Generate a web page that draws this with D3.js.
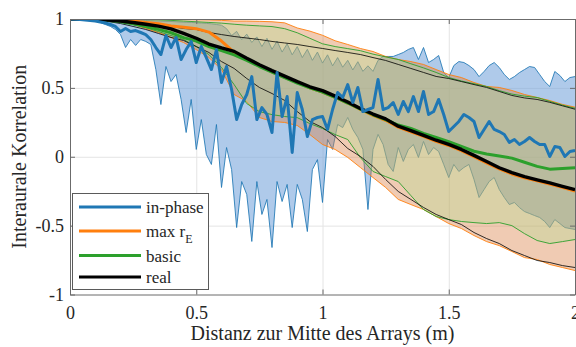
<!DOCTYPE html>
<html>
<head>
<meta charset="utf-8">
<script src="https://cdn.jsdelivr.net/npm/d3@7"></script>
<style>
  body { margin: 0; background: #fff; }
  svg { display: block; }
</style>
</head>
<body>
<div id="chart"></div>
<script>
// sampling positions along the array (m)
const dist = d3.range(101).map(i => i / 50);
const distCoarse = d3.range(41).map(i => i / 20);

// in-phase: mean and min/max band
const inPhaseMean = [
  1.000, 0.998, 0.996, 0.993, 0.989, 0.985, 0.978, 0.971, 0.960, 0.946,
  0.909, 0.931, 0.909, 0.916, 0.902, 0.887, 0.851, 0.793, 0.742, 0.880,
  0.793, 0.866, 0.706, 0.778, 0.837, 0.684, 0.800, 0.720, 0.633, 0.778,
  0.539, 0.655, 0.488, 0.270, 0.379, 0.452, 0.582, 0.270, 0.357, 0.307,
  0.176, 0.612, 0.292, 0.437, 0.031, 0.466, 0.343, 0.147, 0.270, 0.285,
  0.292, 0.198, 0.343, 0.466, 0.430, 0.524, 0.394, 0.503, 0.328, 0.343,
  0.357, 0.561, 0.343, 0.357, 0.394, 0.307, 0.401, 0.328, 0.437, 0.328,
  0.474, 0.307, 0.328, 0.416, 0.307, 0.183, 0.220, 0.256, 0.307, 0.285,
  0.256, 0.140, 0.198, 0.256, 0.198, 0.183, 0.162, 0.104, 0.125, 0.089,
  0.111, 0.140, 0.111, 0.089, 0.089, 0.002, 0.074, 0.067, 0.002, 0.038,
  0.045
];
const inPhaseUpper = [
  1.000, 1.000, 1.000, 1.000, 0.999, 0.999, 0.998, 0.998, 0.997, 0.996,
  0.995, 0.994, 0.993, 0.992, 0.990, 0.989, 0.988, 0.986, 0.985, 0.983,
  0.982, 0.980, 0.978, 0.976, 0.975, 0.973, 0.970, 0.968, 0.965, 0.960,
  0.955, 0.930, 0.880, 0.910, 0.850, 0.890, 0.830, 0.870, 0.800, 0.860,
  0.780, 0.840, 0.760, 0.820, 0.740, 0.800, 0.720, 0.780, 0.700, 0.760,
  0.680, 0.740, 0.660, 0.720, 0.650, 0.700, 0.630, 0.690, 0.620, 0.660,
  0.620, 0.700, 0.728, 0.728, 0.728, 0.742, 0.757, 0.779, 0.793, 0.706,
  0.793, 0.684, 0.706, 0.735, 0.612, 0.575, 0.662, 0.691, 0.684, 0.662,
  0.633, 0.582, 0.619, 0.662, 0.684, 0.648, 0.597, 0.561, 0.582, 0.611,
  0.633, 0.655, 0.648, 0.597, 0.546, 0.510, 0.619, 0.590, 0.546, 0.575,
  0.582
];
const inPhaseLower = [
  1.000, 0.999, 0.998, 0.995, 0.991, 0.985, 0.975, 0.960, 0.946, 0.924,
  0.887, 0.793, 0.851, 0.808, 0.851, 0.837, 0.815, 0.633, 0.379, 0.655,
  0.546, 0.597, 0.416, 0.176, 0.416, 0.053, 0.270, 0.016, -0.056, 0.234,
  -0.223, 0.067, -0.093, -0.514, -0.180, -0.274, -0.615, -0.180, -0.419, -0.310,
  -0.659, -0.180, -0.325, -0.201, -0.514, -0.201, -0.310, -0.543, -0.093, -0.021,
  -0.332, 0.125, 0.053, 0.234, 0.212, 0.285, 0.198, 0.140, 0.053, -0.383,
  0.053, 0.162, 0.089, -0.056, -0.107, 0.067, -0.034, 0.053, 0.089, -0.005,
  0.111, 0.016, 0.067, 0.038, -0.056, -0.151, -0.056, -0.107, -0.078, -0.056,
  -0.165, -0.296, -0.238, -0.180, -0.151, -0.238, -0.296, -0.347, -0.332, -0.369,
  -0.398, -0.412, -0.427, -0.441, -0.470, -0.514, -0.456, -0.485, -0.514, -0.521,
  -0.528
];

// max r_E
const maxReMean = [
  1.000, 1.000, 0.999, 0.996, 0.990, 0.985, 0.975, 0.965, 0.950, 0.940,
  0.930, 0.905, 0.840, 0.758, 0.708, 0.660, 0.617, 0.577, 0.540, 0.500,
  0.470, 0.432, 0.390, 0.343, 0.300, 0.265, 0.215, 0.180, 0.148, 0.112,
  0.082, 0.045, 0.000, -0.045, -0.088, -0.125, -0.152, -0.175, -0.198, -0.222,
  -0.250
];
const maxReUpper = [
  1.000, 1.000, 1.000, 1.000, 1.000, 0.999, 0.999, 0.998, 0.998, 0.997,
  0.996, 0.994, 0.990, 0.985, 0.985, 0.983, 0.980, 0.972, 0.935, 0.912,
  0.882, 0.842, 0.815, 0.786, 0.764, 0.728, 0.706, 0.691, 0.670, 0.633,
  0.597, 0.575, 0.539, 0.510, 0.503, 0.481, 0.452, 0.430, 0.408, 0.380,
  0.360
];
const maxReLower = [
  1.000, 0.999, 0.996, 0.989, 0.978, 0.960, 0.931, 0.902, 0.866, 0.829,
  0.778, 0.720, 0.633, 0.452, 0.401, 0.285, 0.256, 0.249, 0.227, 0.161,
  0.089, 0.053, -0.005, -0.078, -0.151, -0.223, -0.310, -0.347, -0.383, -0.434,
  -0.485, -0.521, -0.572, -0.616, -0.645, -0.688, -0.732, -0.746, -0.782, -0.804,
  -0.826
];

// basic
const basicMean = [
  1.000, 1.000, 0.997, 0.990, 0.980, 0.965, 0.945, 0.925, 0.900, 0.865,
  0.840, 0.800, 0.770, 0.740, 0.700, 0.655, 0.615, 0.575, 0.535, 0.500,
  0.470, 0.432, 0.390, 0.345, 0.305, 0.270, 0.230, 0.205, 0.170, 0.140,
  0.110, 0.075, 0.040, 0.020, 0.005, -0.010, -0.040, -0.070, -0.090, -0.085,
  -0.080
];
const basicUpper = [
  1.000, 1.000, 1.000, 1.000, 0.999, 0.998, 0.996, 0.994, 0.990, 0.985,
  0.980, 0.975, 0.970, 0.962, 0.955, 0.950, 0.945, 0.930, 0.900, 0.860,
  0.820, 0.800, 0.785, 0.770, 0.745, 0.725, 0.706, 0.675, 0.645, 0.612,
  0.575, 0.550, 0.530, 0.510, 0.480, 0.455, 0.440, 0.430, 0.402, 0.375,
  0.352
];
const basicLower = [
  1.000, 0.999, 0.996, 0.989, 0.978, 0.960, 0.938, 0.909, 0.880, 0.851,
  0.800, 0.742, 0.648, 0.524, 0.386, 0.328, 0.306, 0.292, 0.284, 0.241,
  0.205, 0.161, 0.125, -0.006, -0.107, -0.144, -0.180, -0.282, -0.383, -0.434,
  -0.456, -0.470, -0.478, -0.485, -0.478, -0.500, -0.558, -0.608, -0.630, -0.616,
  -0.601
];

// real
const realMean = [
  1.000, 1.000, 0.998, 0.993, 0.985, 0.975, 0.962, 0.948, 0.928, 0.895,
  0.860, 0.818, 0.790, 0.765, 0.715, 0.668, 0.625, 0.585, 0.545, 0.508,
  0.480, 0.440, 0.398, 0.350, 0.310, 0.275, 0.222, 0.190, 0.155, 0.120,
  0.090, 0.053, 0.010, -0.035, -0.080, -0.115, -0.145, -0.168, -0.190, -0.215,
  -0.238
];
const realUpper = [
  1.000, 1.000, 0.999, 0.996, 0.993, 0.985, 0.974, 0.960, 0.946, 0.931,
  0.924, 0.902, 0.887, 0.873, 0.862, 0.851, 0.837, 0.826, 0.815, 0.800,
  0.786, 0.771, 0.757, 0.742, 0.720, 0.699, 0.670, 0.641, 0.612, 0.583,
  0.568, 0.546, 0.524, 0.503, 0.474, 0.445, 0.427, 0.416, 0.395, 0.370,
  0.345
];
const realLower = [
  1.000, 0.999, 0.993, 0.982, 0.967, 0.946, 0.924, 0.895, 0.866, 0.844,
  0.800, 0.757, 0.691, 0.641, 0.568, 0.503, 0.459, 0.409, 0.328, 0.256,
  0.212, 0.147, 0.060, 0.002, -0.070, -0.165, -0.252, -0.310, -0.368, -0.419,
  -0.456, -0.492, -0.550, -0.594, -0.630, -0.681, -0.717, -0.753, -0.768, -0.790,
  -0.804
];

const xTicks = [0, 0.5, 1, 1.5, 2];
const xTickLabels = ["0", "0.5", "1", "1.5", "2"];
const yTicks = [-1, -0.5, 0, 0.5, 1];
const yTickLabels = ["-1", "-0.5", "0", "0.5", "1"];
const legendLabels = ["in-phase", "max r", "basic", "real"];

const FONT = "'Liberation Serif', 'Times New Roman', serif";
const TEXT = "#262626";
const AXIS = "#6b6b6b";
const colors = ["#1f77b4", "#ff7f0e", "#2ca02c", "#000000"];

const W = 576, H = 347;
const x = d3.scaleLinear().domain([0, 2]).range([70, 575]);
const y = d3.scaleLinear().domain([-1, 1]).range([294.5, 19]);

const svg = d3.select("#chart").append("svg")
    .attr("width", W)
    .attr("height", H);

svg.append("defs").append("clipPath").attr("id", "clip")
  .append("rect")
    .attr("x", x(0)).attr("y", y(1))
    .attr("width", x(2) - x(0) + 1).attr("height", y(-1) - y(1));

// grid lines
svg.append("g")
    .attr("transform", `translate(0,${y(-1)})`)
    .call(d3.axisBottom(x).tickValues(xTicks.slice(1, -1)).tickSize(-(y(-1) - y(1))).tickFormat(""))
    .call(g => g.select(".domain").remove())
    .selectAll("line").attr("stroke", "#e4e4e4");
svg.append("g")
    .attr("transform", `translate(${x(0)},0)`)
    .call(d3.axisLeft(y).tickValues(yTicks.slice(1, -1)).tickSize(-(x(2) - x(0))).tickFormat(""))
    .call(g => g.select(".domain").remove())
    .selectAll("line").attr("stroke", "#e4e4e4");

const plot = svg.append("g").attr("clip-path", "url(#clip)");

const line = xs => d3.line().x((d, i) => x(xs[i])).y(d => y(d));

function band(xs, upper, lower, fill, fillOpacity, edge, edgeOpacity) {
    if (fill) {
        const area = d3.area()
            .x((d, i) => x(xs[i]))
            .y0((d, i) => y(lower[i]))
            .y1(d => y(d));
        plot.append("path").datum(upper)
            .attr("d", area)
            .attr("fill", fill)
            .attr("fill-opacity", fillOpacity);
    }
    [upper, lower].forEach(s => {
        plot.append("path").datum(s)
            .attr("d", line(xs))
            .attr("fill", "none")
            .attr("stroke", edge)
            .attr("stroke-opacity", edgeOpacity)
            .attr("stroke-width", 1);
    });
}

// bands
band(dist, inPhaseUpper, inPhaseLower, "#7aa6dc", 0.6, colors[0], 0.85);
band(distCoarse, maxReUpper, maxReLower, "#da7d40", 0.4, colors[1], 0.9);
band(distCoarse, basicUpper, basicLower, "#aae18c", 0.3, colors[2], 0.9);
band(distCoarse, realUpper, realLower, null, 0, "#000", 0.8);

// mean lines
function meanLine(xs, s, color, width) {
    plot.append("path").datum(s)
        .attr("d", line(xs))
        .attr("fill", "none")
        .attr("stroke", color)
        .attr("stroke-width", width)
        .attr("stroke-linejoin", "round");
}
meanLine(distCoarse, maxReMean, colors[1], 3);
meanLine(distCoarse, basicMean, colors[2], 3);
meanLine(distCoarse, realMean, colors[3], 3.4);
meanLine(dist, inPhaseMean, colors[0], 3);

// axes
function styleAxis(g) {
    g.selectAll(".domain").attr("stroke", AXIS);
    g.selectAll(".tick line").attr("stroke", AXIS);
    g.selectAll("text")
        .attr("font-family", FONT)
        .attr("font-size", 18)
        .attr("fill", TEXT);
}
svg.append("g")
    .attr("transform", `translate(0,${y(-1)})`)
    .call(d3.axisBottom(x).tickValues(xTicks).tickFormat((d, i) => xTickLabels[i])
        .tickSizeInner(-5).tickSizeOuter(0).tickPadding(12))
    .call(styleAxis);
svg.append("g")
    .attr("transform", `translate(0,${y(1)})`)
    .call(d3.axisTop(x).tickValues(xTicks).tickFormat("").tickSizeInner(-5).tickSizeOuter(0))
    .call(styleAxis);
svg.append("g")
    .attr("transform", `translate(${x(0)},0)`)
    .call(d3.axisLeft(y).tickValues(yTicks).tickFormat((d, i) => yTickLabels[i])
        .tickSizeInner(-5).tickSizeOuter(0).tickPadding(6))
    .call(styleAxis);
svg.append("g")
    .attr("transform", `translate(${x(2)},0)`)
    .call(d3.axisRight(y).tickValues(yTicks).tickFormat("").tickSizeInner(-5).tickSizeOuter(0))
    .call(styleAxis);

// axis titles
svg.append("text")
    .attr("x", (x(0) + x(2)) / 2)
    .attr("y", 340)
    .attr("text-anchor", "middle")
    .attr("font-family", FONT)
    .attr("font-size", 20)
    .attr("fill", TEXT)
    .text("Distanz zur Mitte des Arrays (m)");
svg.append("text")
    .attr("transform", `translate(26,${(y(1) + y(-1)) / 2}) rotate(-90)`)
    .attr("text-anchor", "middle")
    .attr("font-family", FONT)
    .attr("font-size", 20)
    .attr("fill", TEXT)
    .text("Interaurale Korrelation");

// legend
const legendRowY = [207, 231, 255.5, 277];
const legend = svg.append("g");
legend.append("rect")
    .attr("x", 72.5).attr("y", 193.5)
    .attr("width", 136).attr("height", 96)
    .attr("fill", "#fff")
    .attr("stroke", "#5a5a5a");
legendLabels.forEach((label, i) => {
    const ly = legendRowY[i];
    legend.append("line")
        .attr("x1", 79).attr("x2", 141)
        .attr("y1", ly).attr("y2", ly)
        .attr("stroke", colors[i])
        .attr("stroke-width", 3);
    const t = legend.append("text")
        .attr("x", 146).attr("y", ly + 6)
        .attr("font-family", FONT)
        .attr("font-size", 17)
        .attr("fill", TEXT)
        .text(label);
    if (i === 1) {
        t.append("tspan").attr("font-size", 12).attr("dy", 6).text("E");
    }
});
</script>
</body>
</html>
